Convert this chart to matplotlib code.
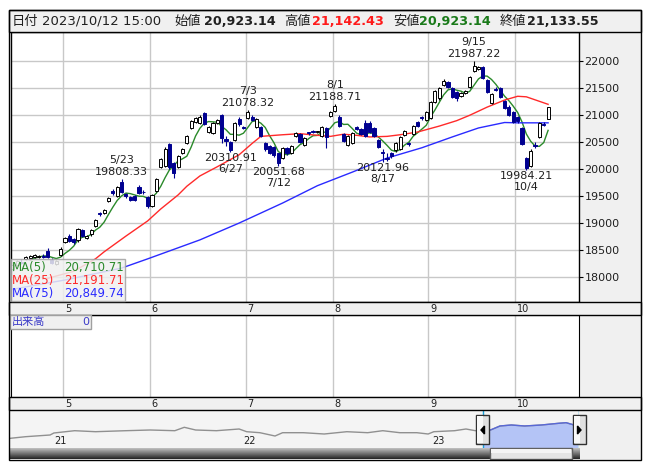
import numpy as np
import pandas as pd
import matplotlib
matplotlib.use("Agg")
import matplotlib.pyplot as plt
from matplotlib.patches import Rectangle, Polygon
from matplotlib.transforms import blended_transform_factory

plt.rcParams['font.family'] = ['DejaVu Sans', 'Noto Sans CJK JP']

# trading calendar (weekdays minus Japanese holidays)
holidays = ['2023-05-03', '2023-05-04', '2023-05-05', '2023-07-17',
            '2023-08-11', '2023-09-18', '2023-10-09']
dates = pd.bdate_range('2023-04-13', '2023-10-12')
dates = dates[~dates.isin(pd.to_datetime(holidays))]

opens = [18150, 18230, 18290, 18330, 18360, 18370, 18380, 18390, 18480, 18320, 18250, 18420,
         18650, 18770, 18700, 18680, 18880, 18730, 18790, 18950, 19180, 19190, 19400, 19590,
         19500, 19760, 19530, 19480, 19500, 19660, 19580, 19480, 19310, 19600, 20030, 20050,
         20460, 20110, 20030, 20300, 20480, 20750, 20870, 20850, 21030, 20680, 20670, 20850,
         21000, 20550, 20500, 20530, 20920, 20770, 20940, 20960, 20770, 20770, 20470, 20420,
         20400, 20290, 20200, 20380, 20290, 20600, 20640, 20440, 20670, 20690, 20680, 20600,
         20760, 20970, 21070, 20950, 20640, 20450, 20480, 20770, 20730, 20850, 20850, 20760,
         20530, 20320, 20200, 20300, 20340, 20360, 20620, 20470, 20640, 20870, 20950, 20900,
         20940, 21230, 21300, 21550, 21600, 21490, 21420, 21340, 21400, 21520, 21800, 21850,
         21880, 21640, 21220, 21480, 21500, 21250, 21150, 21050, 20950, 20750, 20200, 20050,
         20440, 20590, 20830, 20923.14]
highs = [18250, 18320, 18330, 18400, 18420, 18430, 18420, 18430, 18540, 18350, 18320, 18550,
         18740, 18800, 18720, 18910, 18900, 18780, 18900, 19070, 19200, 19260, 19490, 19630,
         19690, 19808.33, 19560, 19500, 19520, 19700, 19610, 19500, 19540, 19830, 20200, 20400,
         20480, 20130, 20260, 20390, 20630, 20900, 20960, 20990, 21050, 20800, 20870, 20920,
         21020, 20600, 20520, 20870, 20950, 20790, 21078.32, 20990, 20940, 20790, 20490, 20440,
         20420, 20300, 20400, 20400, 20440, 20680, 20660, 20590, 20690, 20710, 20700, 20800,
         20780, 21070, 21188.71, 20990, 20660, 20620, 20680, 20790, 20750, 20900, 20880, 20780,
         20550, 20360, 20290, 20320, 20490, 20610, 20720, 20500, 20810, 20890, 20980, 21070,
         21250, 21460, 21510, 21660, 21630, 21510, 21440, 21420, 21450, 21710, 21987.22, 21900,
         21900, 21660, 21400, 21510, 21520, 21270, 21170, 21070, 20970, 20770, 20220, 20360,
         20490, 20870, 20860, 21142.43]
lows = [18120, 18200, 18240, 18310, 18340, 18350, 18360, 18350, 18360, 18240, 18220, 18400,
        18630, 18650, 18610, 18660, 18740, 18710, 18770, 18930, 19140, 19170, 19380, 19520,
        19480, 19560, 19470, 19400, 19410, 19530, 19540, 19280, 19290, 19580, 20010, 20030,
        20000, 19830, 20010, 20280, 20460, 20730, 20850, 20830, 20810, 20660, 20650, 20830,
        20480, 20430, 20310.91, 20510, 20800, 20730, 20920, 20880, 20750, 20580, 20330, 20270,
        20220, 20051.68, 20180, 20260, 20270, 20580, 20470, 20420, 20630, 20660, 20670, 20580,
        20390, 20950, 21050, 20780, 20490, 20420, 20460, 20710, 20630, 20580, 20660, 20580,
        20390, 20121.96, 20150, 20200, 20320, 20340, 20600, 20430, 20620, 20770, 20910, 20880,
        20920, 21210, 21280, 21530, 21490, 21300, 21260, 21320, 21380, 21500, 21780, 21830,
        21650, 21400, 21200, 21430, 21310, 21110, 20980, 20850, 20840, 20440, 19984.21, 20030,
        20380, 20570, 20790, 20923.14]
closes = [18220, 18300, 18270, 18380, 18400, 18410, 18400, 18380, 18380, 18270, 18300, 18530,
          18720, 18670, 18650, 18890, 18770, 18760, 18880, 19050, 19160, 19240, 19470, 19550,
          19670, 19580, 19500, 19420, 19430, 19550, 19570, 19310, 19520, 19810, 20180, 20370,
          20030, 19920, 20240, 20370, 20610, 20880, 20930, 20960, 20830, 20770, 20850, 20900,
          20570, 20520, 20350, 20850, 20820, 20750, 21050, 20900, 20920, 20600, 20360, 20290,
          20250, 20100, 20380, 20290, 20420, 20660, 20490, 20570, 20660, 20680, 20690, 20780,
          20580, 21050, 21160, 20800, 20510, 20600, 20660, 20730, 20650, 20600, 20680, 20600,
          20410, 20290, 20190, 20240, 20470, 20590, 20700, 20460, 20790, 20790, 20930, 21050,
          21230, 21440, 21490, 21620, 21510, 21330, 21310, 21400, 21430, 21690, 21900, 21880,
          21670, 21420, 21380, 21450, 21330, 21130, 21000, 20870, 20880, 20460, 20010, 20330,
          20430, 20850, 20810, 21133.55]

# moving averages (trading-day position, value)
ma25_pos = [8, 14, 19, 21, 26, 31, 34, 38, 40, 43, 47, 52, 55, 57, 62, 66, 70, 73, 76, 79,
            82, 86, 89, 93, 98, 102, 105, 109, 113, 116, 118, 123]
ma25_val = [17980, 18110, 18340, 18470, 18760, 19040, 19260, 19520, 19680, 19870, 20040, 20260,
            20470, 20600, 20630, 20650, 20620, 20600, 20640, 20620, 20590, 20600, 20630, 20680,
            20790, 20890, 20990, 21140, 21270, 21340, 21330, 21191.71]
ma75_pos = [0, 12, 25, 31, 43, 52, 62, 70, 78, 86, 94, 101, 107, 113, 116, 123]
ma75_val = [17780, 17950, 18170, 18340, 18690, 19000, 19370, 19690, 19940, 20200, 20390, 20590,
            20755, 20856, 20850, 20849.74]

high_marks = ['2023-05-23', '2023-07-03', '2023-08-01', '2023-09-15']
low_marks = ['2023-06-27', '2023-07-12', '2023-08-17', '2023-10-04']

# navigator history (year, value)
nav_t = [2020.78, 2020.86, 2020.99, 2021.01, 2021.12, 2021.23, 2021.39, 2021.52, 2021.65,
         2021.70, 2021.76, 2021.87, 2021.99, 2022.03, 2022.10, 2022.18, 2022.22, 2022.33,
         2022.44, 2022.56, 2022.67, 2022.75, 2022.84, 2022.93, 2022.99, 2023.02, 2023.13,
         2023.19, 2023.24, 2023.32, 2023.37, 2023.43, 2023.50, 2023.59, 2023.68, 2023.72,
         2023.78]
nav_v = [14980, 15620, 16300, 17100, 18020, 17620, 18020, 18300, 18020, 19380, 18300, 18020,
         18700, 17620, 17220, 15900, 17220, 17220, 16700, 17620, 17220, 18020, 17220, 17220,
         16700, 17620, 18020, 18700, 18020, 18300, 19900, 20300, 19900, 20300, 20980, 21220,
         19900]
nav_sel = (2023.278, 2023.788)

W, H = 653, 470
fig = plt.figure(figsize=(W / 100, H / 100), dpi=100)


def rect(x0, y0, x1, y1):
    return [x0 / W, 1 - y1 / H, (x1 - x0) / W, (y1 - y0) / H]


def box(x0, y0, x1, y1, fc='none', ec='black', lw=1.0, z=1, alpha=1.0):
    r = Rectangle((x0 / W, 1 - y1 / H), (x1 - x0) / W, (y1 - y0) / H,
                  transform=fig.transFigure, fc=fc, ec=ec, lw=lw, zorder=z, alpha=alpha)
    fig.add_artist(r)
    return r


def ftext(x, y, s, **kw):
    fig.text(x / W, 1 - y / H, s, **kw)


O = np.array(opens, float)
Hi = np.array(highs, float)
Lo = np.array(lows, float)
C = np.array(closes, float)
n = len(C)
pos = np.arange(n)
navy = '#000090'
grid_c = '#c8c8c8'

# background panels
box(579, 32, 641, 459, fc='#f0f0f0', ec='none', z=-1)

# ---- main price panel
ax = fig.add_axes(rect(11, 32, 579, 302))
ax.set_xlim(-0.4, 130.1)
ax.set_ylim(17544, 22526)
month_idx = [i for i in range(1, n) if dates[i].month != dates[i - 1].month]
grid_x = [i - 0.5 for i in month_idx]
for gx in grid_x:
    ax.axvline(gx, color=grid_c, lw=1, zorder=0)
yt = np.arange(18000, 22001, 500)
for yv in yt:
    ax.axhline(yv, color=grid_c, lw=1, zorder=0)

up = C >= O
ax.vlines(pos, Lo, Hi, colors=np.where(up, 'black', navy), lw=0.8, zorder=3)
ax.bar(pos, np.maximum(np.abs(C - O), 12), width=0.72, bottom=np.minimum(O, C),
       color=np.where(up, 'white', navy), edgecolor=np.where(up, 'black', navy),
       linewidth=0.7, zorder=4)

ma5 = pd.Series(C).rolling(5).mean()
ax.plot(pos, ma5, color='#2a8a2a', lw=1, zorder=2.5)
ax.plot(ma25_pos, ma25_val, color='#ff2a2a', lw=1, zorder=2.5)
ax.plot(ma75_pos, ma75_val, color='#2a2aff', lw=1, zorder=2.5)

date_list = list(dates.strftime('%Y-%m-%d'))
for d in high_marks:
    i = date_list.index(d)
    dt = dates[i]
    ax.annotate(f"{Hi[i]:.2f}", (i, Hi[i]), xytext=(0, 7), textcoords='offset pixels',
                ha='center', va='center', fontsize=8, color='#202020', zorder=6)
    ax.annotate(f"{dt.month}/{dt.day}", (i, Hi[i]), xytext=(0, 19), textcoords='offset pixels',
                ha='center', va='center', fontsize=8, color='#202020', zorder=6)
for d in low_marks:
    i = date_list.index(d)
    dt = dates[i]
    ax.annotate(f"{Lo[i]:.2f}", (i, Lo[i]), xytext=(0, -6), textcoords='offset pixels',
                ha='center', va='center', fontsize=8, color='#202020', zorder=6)
    ax.annotate(f"{dt.month}/{dt.day}", (i, Lo[i]), xytext=(0, -17), textcoords='offset pixels',
                ha='center', va='center', fontsize=8, color='#202020', zorder=6)

ax.set_xticks([])
ax.set_yticks(yt)
ax.set_yticklabels([str(v) for v in yt])
ax.yaxis.tick_right()
ax.tick_params(axis='y', length=3, pad=1, labelsize=8, labelcolor='#202020')
for s in ax.spines.values():
    s.set_color('black')
    s.set_linewidth(1)

# ---- volume panel
vax = fig.add_axes(rect(11, 315, 579, 397))
vax.set_xlim(ax.get_xlim())
vax.set_ylim(0, 1)
for gx in grid_x:
    vax.axvline(gx, color=grid_c, lw=1)
vax.set_xticks([])
vax.set_yticks([])
for s in vax.spines.values():
    s.set_color('black')

# ---- month strips
tr = blended_transform_factory(ax.transData, fig.transFigure)
for y0, y1 in [(302, 315), (397, 410)]:
    box(9, y0, 641, y1, fc='#f0f0f0', ec='black', z=1)
    for i, gx in zip(month_idx, grid_x):
        fig.text(gx + 0.45, 1 - (y0 + 7) / H, str(dates[i].month), transform=tr,
                 ha='left', va='center', fontsize=7, color='#202020', zorder=2)

# ---- navigator
nax = fig.add_axes(rect(10, 410, 579, 448))
nax.set_facecolor('#f4f4f4')
nax.set_xlim(2020.778, 2023.788)
nax.set_ylim(11100, 26300)
nax.plot(nav_t, nav_v, color='#909090', lw=1)
fill = nax.fill_between(nav_t, nav_v, 11100, color='#b4c4f6', lw=0)
fill.set_clip_path(Rectangle((nav_sel[0], 11100), nav_sel[1] - nav_sel[0], 15200,
                             transform=nax.transData))
sel_line, = nax.plot(nav_t, nav_v, color='#5868d8', lw=1)
sel_line.set_clip_path(Rectangle((nav_sel[0], 11100), nav_sel[1] - nav_sel[0], 15200,
                                 transform=nax.transData))
for xs in nav_sel:
    nax.axvline(xs, color='#18a0d8', lw=1)
ntr = blended_transform_factory(nax.transData, fig.transFigure)
for yr in [2021, 2022, 2023]:
    fig.text(yr + 0.01, 1 - 441 / H, str(yr)[2:], transform=ntr, ha='left', va='center',
             fontsize=7, color='#202020', zorder=2)
nax.set_xticks([])
nax.set_yticks([])
for s in nax.spines.values():
    s.set_visible(False)

# selection handles
for x0, x1, pts in [(476, 489, [(484.5, 426), (484.5, 434), (481, 430)]),
                    (573, 586, [(577.5, 426), (577.5, 434), (581, 430)])]:
    box(x0, 415, x1, 444, fc='#e0e0e0', ec='#303030', z=3)
    box(x0 + 1, 416, (x0 + x1) / 2, 443, fc='#f8f8f8', ec='none', z=3)
    fig.add_artist(Polygon([(px / W, 1 - py / H) for px, py in pts], closed=True,
                           transform=fig.transFigure, fc='black', ec='black', zorder=4))

# scrollbar
sax = fig.add_axes(rect(10, 448, 580, 459))
grad = np.linspace(0.75, 0.15, 20).reshape(-1, 1)
sax.imshow(np.repeat(grad, 2, axis=1), cmap='gray', vmin=0, vmax=1, aspect='auto',
           extent=(0, 1, 0, 1))
sax.set_xticks([])
sax.set_yticks([])
for s in sax.spines.values():
    s.set_visible(False)
box(490, 448, 572, 459, fc='#e4e4e4', ec='#606060', z=3)
box(491, 449, 571, 453, fc='#f4f4f4', ec='none', z=3)

# ---- legend box
box(11, 259, 125, 301, fc='#f0f0f0', ec='#a0a0a0', z=5, alpha=0.85)
legend_rows = [('MA(5)', ma5.iloc[-1], '#2a8a2a'),
               ('MA(25)', ma25_val[-1], '#ff2a2a'),
               ('MA(75)', ma75_val[-1], '#2a2aff')]
for k, (lab, val, col) in enumerate(legend_rows):
    yy = 267 + 13.5 * k
    ftext(12, yy, lab, ha='left', va='center', fontsize=8.5, color=col, zorder=6)
    ftext(124, yy, f"{val:,.2f}", ha='right', va='center', fontsize=8.5, color=col, zorder=6)

# volume label
box(10, 315, 91, 329, fc='#f0f0f0', ec='#a0a0a0', z=5)
ftext(12, 322, '出来高', ha='left', va='center', fontsize=8, color='#3a3ac8', zorder=6)
ftext(89, 322, '0', ha='right', va='center', fontsize=8, color='#3a3ac8', zorder=6)

# ---- header
box(9, 10, 641, 32, fc='#f0f0f0', ec='black', z=1)
last = dates[-1]
hdr = [(12, '日付', 'normal', 9.5, '#202020'),
       (42, last.strftime('%Y/%m/%d') + ' 15:00', 'normal', 9.5, '#202020'),
       (174, '始値', 'normal', 9.5, '#202020'),
       (204, f"{O[-1]:,.2f}", 'bold', 9.2, '#202020'),
       (284, '高値', 'normal', 9.5, '#202020'),
       (312, f"{Hi[-1]:,.2f}", 'bold', 9.2, '#ff1a1a'),
       (393, '安値', 'normal', 9.5, '#202020'),
       (419, f"{Lo[-1]:,.2f}", 'bold', 9.2, '#1a7a1a'),
       (500, '終値', 'normal', 9.5, '#202020'),
       (527, f"{C[-1]:,.2f}", 'bold', 9.2, '#202020')]
for x, s, w, fs, col in hdr:
    ftext(x, 21.5, s, ha='left', va='center', fontsize=fs, fontweight=w, color=col, zorder=2)

# outer frame
box(9, 10, 641, 460, fc='none', ec='black', z=7)

fig.savefig('out.png', dpi=100)
